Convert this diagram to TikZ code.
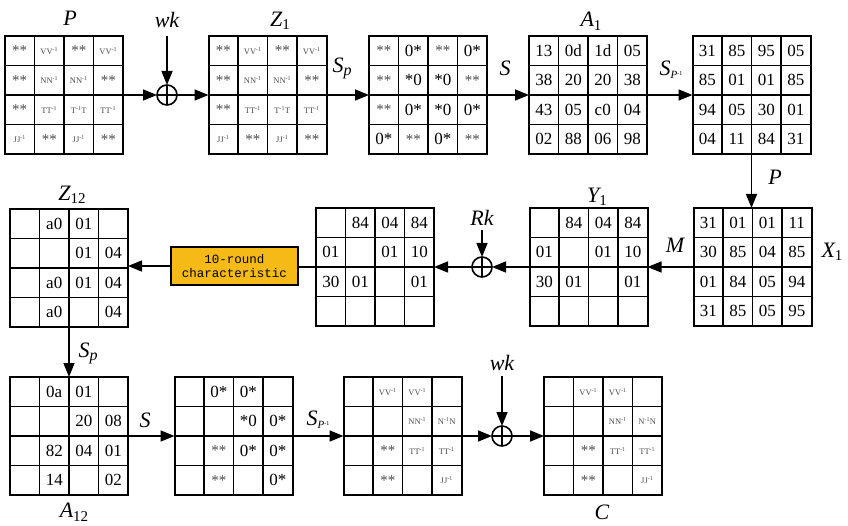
\documentclass[tikz,border=0pt]{standalone}
\usepackage{fontspec}
\setmainfont{LiberationSerif}[Extension=.ttf, UprightFont=*-Regular, ItalicFont=*-Italic, BoldFont=*-Bold, BoldItalicFont=*-BoldItalic]
\newfontfamily\monof{Liberation Mono}
\usetikzlibrary{arrows.meta,calc}
\definecolor{orng}{RGB}{245,186,21}
\definecolor{txtgray}{RGB}{75,75,75}
\newcommand\ginv[1]{{\fontsize{8.5}{8.5}\selectfont\color{txtgray}#1#1\textsuperscript{-1}}}
\newcommand\invg[1]{{\fontsize{8.5}{8.5}\selectfont\color{txtgray}#1\textsuperscript{-1}#1}}
\newcommand\dstar{{\fontsize{15}{15}\selectfont\color{txtgray}**}}
\newcommand\subl[2]{\textit{#1}\raisebox{-0.35ex}{\fontsize{15}{15}\selectfont\upshape #2}}
\newcommand\Sp{\textit{S}\raisebox{-0.3ex}{\fontsize{16}{16}\selectfont\itshape p}}
\newcommand\Spinv{\textit{S}\raisebox{-0.3ex}{\fontsize{11}{11}\selectfont\itshape P\raisebox{0.7ex}{\fontsize{6}{6}\selectfont\upshape -1}}}
\tikzset{
  gridbox/.style={draw, line width=2pt, minimum size=118pt, inner sep=0pt, outer sep=0pt},
  inner/.style={line width=1.6pt},
  cell/.style={inner sep=0pt, font=\fontsize{17}{17}\selectfont},
  lab/.style={inner sep=0pt, font=\fontsize{22}{22}\selectfont\itshape},
  arr/.style={line width=1.5pt, -{Triangle[length=14pt,width=11pt]}},
  conn/.style={line width=1.5pt},
  xorc/.style={circle, draw, line width=1.6pt, minimum size=20pt, inner sep=0pt, outer sep=0pt},
  orbox/.style={draw, line width=1.5pt, fill=orng, minimum width=127pt, minimum height=38pt, inner sep=0pt, align=center, font=\monof\fontsize{12.5}{14.5}\selectfont}
}
\newcommand\cellgrid[4]{%
  \node[gridbox] (#1) at (#2,#3) {};
  \foreach \k in {1,2,3}{%
    \draw[inner] ($(#1.north west)+(\k*29.5,0)$) -- ($(#1.south west)+(\k*29.5,0)$);
    \draw[inner] ($(#1.north west)+(0,\k*29.5)$) -- ($(#1.north east)+(0,\k*29.5)$);
  }
  \foreach \t [count=\i from 0] in {#4}{%
    \pgfmathtruncatemacro\cc{mod(\i,4)}%
    \pgfmathtruncatemacro\rr{int(\i/4)}%
    \node[cell] (#1-\i) at ($(#1.north west)+(\cc*29.5+14.75,\rr*29.5+14.75)$) {\t};
  }
}
\newcommand\xorsym[3]{%
  \node[xorc] (#1) at (#2,#3) {};
  \draw[line width=1.6pt] (#1.north) -- (#1.south) (#1.west) -- (#1.east);
}
\begin{document}
\begin{tikzpicture}[x=1pt,y=-1pt]
\useasboundingbox (0,0) rectangle (848,526);
% ---------- row 1 ----------
\cellgrid{P}{64}{95}{\dstar,\ginv{V},\dstar,\ginv{V},\dstar,\ginv{N},\ginv{N},\dstar,\dstar,\ginv{T},\invg{T},\ginv{T},\ginv{J},\dstar,\ginv{J},\dstar}
\cellgrid{Z1}{267.5}{95}{\dstar,\ginv{V},\dstar,\ginv{V},\dstar,\ginv{N},\ginv{N},\dstar,\dstar,\ginv{T},\invg{T},\ginv{T},\ginv{J},\dstar,\ginv{J},\dstar}
\cellgrid{G3}{428}{95}{\dstar,0*,\dstar,0*,\dstar,*0,*0,\dstar,\dstar,0*,*0,0*,0*,\dstar,0*,\dstar}
\cellgrid{A1}{588}{95}{13,0d,1d,05,38,20,20,38,43,05,c0,04,02,88,06,98}
\cellgrid{G5}{751.5}{95}{31,85,95,05,85,01,01,85,94,05,30,01,04,11,84,31}
\xorsym{xa}{167}{95}
\node[lab] (lP) at (70,18) {P};
\node[lab] (lwk1) at (167,20) {wk};
\node[lab] (lZ1) at (280,21) {\subl{Z}{1}};
\node[lab] (lA1) at (591,21) {\subl{A}{1}};
\node[lab] (lSp1) at (342,68) {\Sp};
\node[lab] (lS1) at (505,68) {S};
\node[lab] (lSpi1) at (671,70) {\Spinv};
\coordinate (wk1) at (167,36);
\draw[arr] (wk1) -- (xa.north);
\draw[arr] (P.east) -- (xa.west);
\draw[arr] (xa.east) -- (Z1.west);
\draw[arr] (Z1.east) -- (G3.west);
\draw[arr] (G3.east) -- (A1.west);
\draw[arr] (A1.east) -- (G5.west);
% ---------- row 2 ----------
\cellgrid{X1}{752.5}{267}{31,01,01,11,30,85,04,85,01,84,05,94,31,85,05,95}
\cellgrid{Y1}{588.5}{267}{{},84,04,84,01,{},01,10,30,01,{},01,{},{},{},{}}
\cellgrid{G2}{375}{267}{{},84,04,84,01,{},01,10,30,01,{},01,{},{},{},{}}
\cellgrid{Z12}{69}{268}{{},a0,01,{},{},{},01,04,{},a0,01,04,{},a0,{},04}
\xorsym{xb}{482}{267}
\node[orbox] (box) at (234.5,266) {10-round\\characteristic};
\node[lab] (lP2) at (775,177) {P};
\node[lab] (lM) at (675,245) {M};
\node[lab] (lX1) at (832,252) {\subl{X}{1}};
\node[lab] (lY1) at (597,197) {\subl{Y}{1}};
\node[lab] (lRk) at (482,218) {Rk};
\node[lab] (lZ12) at (72,195) {\subl{Z}{12}};
\coordinate (rk) at (482,230);
\draw[arr] (G5.south) -- (G5.south |- X1.north);
\draw[arr] (X1.west) -- (Y1.east);
\draw[arr] (Y1.west) -- (xb.east);
\draw[arr] (rk) -- (xb.north);
\draw[arr] (xb.west) -- (G2.east);
\draw[conn] (G2.west) -- (G2.west -| box.east);
\draw[arr] (box.west) -- (box.west -| Z12.east);
% ---------- row 3 ----------
\cellgrid{A12}{69}{436}{{},0a,01,{},{},{},20,08,{},82,04,01,{},14,{},02}
\cellgrid{R2}{233.5}{436}{{},0*,0*,{},{},{},*0,0*,{},\dstar,0*,0*,{},\dstar,{},0*}
\cellgrid{R3}{402.5}{436}{{},\ginv{V},\ginv{V},{},{},{},\ginv{N},\invg{N},{},\dstar,\ginv{T},\ginv{T},{},\dstar,{},\ginv{J}}
\cellgrid{C}{603}{436}{{},\ginv{V},\ginv{V},{},{},{},\ginv{N},\invg{N},{},\dstar,\ginv{T},\ginv{T},{},\dstar,{},\ginv{J}}
\xorsym{xc}{502}{436}
\node[lab] (lSp3) at (88,353) {\Sp};
\node[lab] (lA12) at (74,512) {\subl{A}{12}};
\node[lab] (lS3) at (145,420) {S};
\node[lab] (lSpi3) at (318,420) {\Spinv};
\node[lab] (lwk3) at (502,363) {wk};
\node[lab] (lC) at (602,512) {C};
\coordinate (wk3) at (502,376);
\draw[arr] (Z12.south) -- (A12.north);
\draw[arr] (A12.east) -- (R2.west);
\draw[arr] (R2.east) -- (R3.west);
\draw[arr] (R3.east) -- (xc.west);
\draw[arr] (wk3) -- (xc.north);
\draw[arr] (xc.east) -- (C.west);
\end{tikzpicture}
\end{document}
